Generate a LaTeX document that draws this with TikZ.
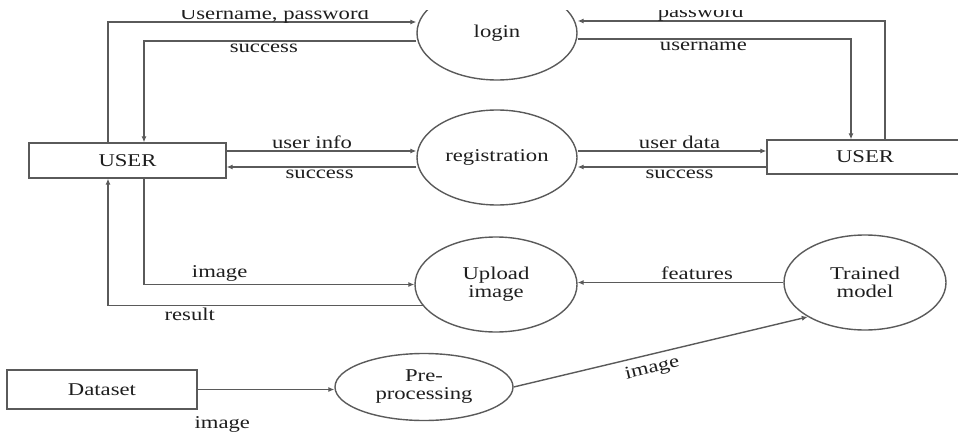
\documentclass[tikz,border=0pt]{standalone}
\usepackage{fontspec}
\setmainfont{Liberation Serif}[FakeStretch=1.26]
\usepackage[]{color}
\usepackage{tikz}
\usetikzlibrary{calc,shapes,arrows,arrows.meta,positioning}
\definecolor{flowline}{RGB}{90,90,90}
\definecolor{flowtext}{RGB}{30,30,30}
\tikzstyle{entity}=[rectangle,draw=flowline,line width=0.7pt,inner sep=0pt,text=flowtext]
\tikzstyle{process}=[ellipse,draw=flowline,line width=0.7pt,inner sep=0pt,align=center,text=flowtext]
\tikzstyle{flow}=[-{Latex[length=3pt,width=2.6pt]},draw=flowline,line width=0.7pt]
\tikzstyle{lbl}=[inner sep=1pt,text=flowtext]

\begin{document}
\begin{tikzpicture}[x=0.5pt,y=-0.5pt,font=\fontsize{9}{9}\selectfont]
        \useasboundingbox (0,0) rectangle (958,433);
        \clip (0,11) rectangle (958,433);
        % external entities
        \node[entity,minimum width=98.5pt,minimum height=17.5pt] (luser) at (127.5,160.5) {USER};
        \node[entity,minimum width=98pt,minimum height=17pt] (ruser) at (865,157) {USER};
        \node[entity,minimum width=95pt,minimum height=19.5pt] (dataset) at (102,389.5) {Dataset};
        % processes
        \node[process,minimum width=80pt,minimum height=47pt] (login) at (497,33) {login};
        \node[process,minimum width=80pt,minimum height=47.5pt] (reg) at (497,157.5) {registration};
        \node[process,minimum width=81pt,minimum height=47.5pt] (upload) at (496,284.5) {Upload\\image};
        \node[process,minimum width=81pt,minimum height=47.5pt] (trained) at (865,282.5) {Trained\\model};
        \node[process,minimum width=89pt,minimum height=33.5pt] (prep) at (424,387) {Pre-\\processing};
        % login flows
        \draw[flow] ([xshift=-9.75pt]luser.north) |- ([yshift=5.5pt]login.west) node[lbl,pos=0.77,above=-2pt] {Username, password};
        \draw[flow] ([yshift=-4pt]login.west) -| ([xshift=8.25pt]luser.north) node[lbl,pos=0.28,below] {success};
        \draw[flow] ([xshift=10pt]ruser.north) |- ([yshift=6pt]login.east) node[lbl,pos=0.8,above=-1.5pt] {password};
        \draw[flow] ([yshift=-3pt]login.east) -| ([xshift=-7pt]ruser.north) node[lbl,pos=0.23,below] {username};
        % registration flows
        \draw[flow] ([yshift=4.75pt]luser.east) -- ([yshift=4.75pt]luser.east -| reg.west) node[lbl,pos=0.45,above] {user info};
        \draw[flow] ([yshift=-3.25pt]reg.west |- luser.east) -- ([yshift=-3.25pt]luser.east) node[lbl,pos=0.51,below] {success};
        \draw[flow] ([yshift=3.25pt]reg.east) -- ([yshift=3.25pt]reg.east -| ruser.west) node[lbl,pos=0.54,above] {user data};
        \draw[flow] ([yshift=-5pt]ruser.west) -- ([yshift=-5pt]ruser.west -| reg.east) node[lbl,pos=0.46,below] {success};
        % upload and model flows
        \draw[flow] ([xshift=8.25pt]luser.south) |- (upload.west) node[lbl,pos=0.64,above] {image};
        \draw[flow] (upload.196.5) -| ([xshift=-9.75pt]luser.south) node[lbl,pos=0.37,below] {result};
        \draw[flow] (trained.west) -- (trained.west -| upload.east) node[lbl,pos=0.42,above] {features};
        \draw[flow] (dataset.east) -- (dataset.east -| prep.west) node[lbl,pos=0.18,below=12pt] {image};
        \draw[flow] (prep.east) -- (trained.211) node[lbl,pos=0.46,sloped,below=2pt] {image};
      \end{tikzpicture}
\end{document}
